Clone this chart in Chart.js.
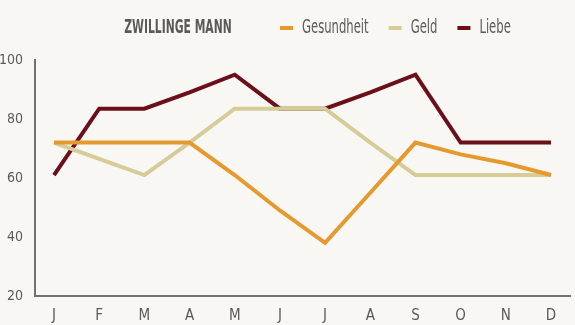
<!DOCTYPE html>
<html>
<head>
<meta charset="utf-8">
<script src="https://cdn.jsdelivr.net/npm/chart.js@4"></script>
<style>
  html, body { margin: 0; padding: 0; background: #f9f7f4; }
</style>
</head>
<body>
<canvas id="chart" width="575" height="325"></canvas>
<script>
// ── Data ─────────────────────────────────────────────────────────────────────
const months = ['J', 'F', 'M', 'A', 'M', 'J', 'J', 'A', 'S', 'O', 'N', 'D'];
const gesundheit = [72, 72, 72, 72, 61, 49, 38, 55, 72, 68, 65, 61];
const geld       = [72, 66.5, 61, 72, 83.5, 83.5, 83.5, 72, 61, 61, 61, 61];
const liebe      = [61, 83.5, 83.5, 89, 95, 83.5, 83.5, 89, 95, 72, 72, 72];
const yTicks     = [20, 40, 60, 80, 100];

const FONT = "'DejaVu Sans Condensed', sans-serif";
const GREY = '#5a5a5a';
const AXIS = '#707070';

// ── Title + legend row (condensed by a horizontal squeeze) ──────────────────
function squeezedText(ctx, text, x, y, sx) {
  ctx.save();
  ctx.translate(x, y);
  ctx.scale(sx, 1);
  ctx.fillText(text, 0, 0);
  ctx.restore();
  return ctx.measureText(text).width * sx;
}

const headerRow = {
  id: 'headerRow',
  afterDraw(chart) {
    const ctx = chart.ctx;
    const y = 28;
    ctx.save();
    ctx.fillStyle = GREY;
    ctx.textBaseline = 'middle';

    ctx.font = `bold 19px ${FONT}`;
    const tw = ctx.measureText('ZWILLINGE MANN').width * 0.63;
    squeezedText(ctx, 'ZWILLINGE MANN', 178 - tw / 2, y, 0.63);

    ctx.font = `19px ${FONT}`;
    let x = 280;
    chart.data.datasets.forEach(ds => {
      ctx.fillStyle = ds.borderColor;
      ctx.fillRect(x, y - 2, 13, 4);
      ctx.fillStyle = GREY;
      x += 22;
      x += squeezedText(ctx, ds.label, x, y, 0.68) + 20;
    });
    ctx.restore();
  }
};

const line = (label, data, color) => ({
  label,
  data: data.map((v, i) => ({ x: i, y: v })),
  borderColor: color,
  backgroundColor: color,
  borderWidth: 4,
  pointRadius: 0,
  tension: 0,
  clip: false,
});

new Chart(document.getElementById('chart'), {
  type: 'line',
  data: {
    datasets: [
      line('Gesundheit', gesundheit, '#e59a2f'),
      line('Geld', geld, '#d6cc98'),
      line('Liebe', liebe, '#6b0f1a'),
    ]
  },
  options: {
    responsive: false,
    animation: false,
    layout: { padding: { left: 0, right: 5, top: 60, bottom: 0 } },
    plugins: {
      tooltip: { enabled: false },
      legend: { display: false },
    },
    scales: {
      x: {
        type: 'linear',
        min: -0.42,
        max: months.length - 1 + 0.42,
        afterFit: axis => { axis.height = 29; },
        afterBuildTicks: axis => { axis.ticks = months.map((m, i) => ({ value: i })); },
        grid: { display: false },
        border: { display: true, color: AXIS, width: 2 },
        ticks: {
          color: GREY,
          font: { family: FONT, size: 15 },
          padding: 3,
          callback: v => months[v],
        },
      },
      y: {
        min: 20,
        max: 100,
        afterFit: axis => { axis.width = 35; },
        afterBuildTicks: axis => { axis.ticks = yTicks.map(v => ({ value: v })); },
        grid: { display: false },
        border: { display: true, color: AXIS, width: 2 },
        ticks: { color: GREY, font: { family: FONT, size: 14 }, padding: 4 },
      }
    }
  },
  plugins: [headerRow]
});
</script>
</body>
</html>
